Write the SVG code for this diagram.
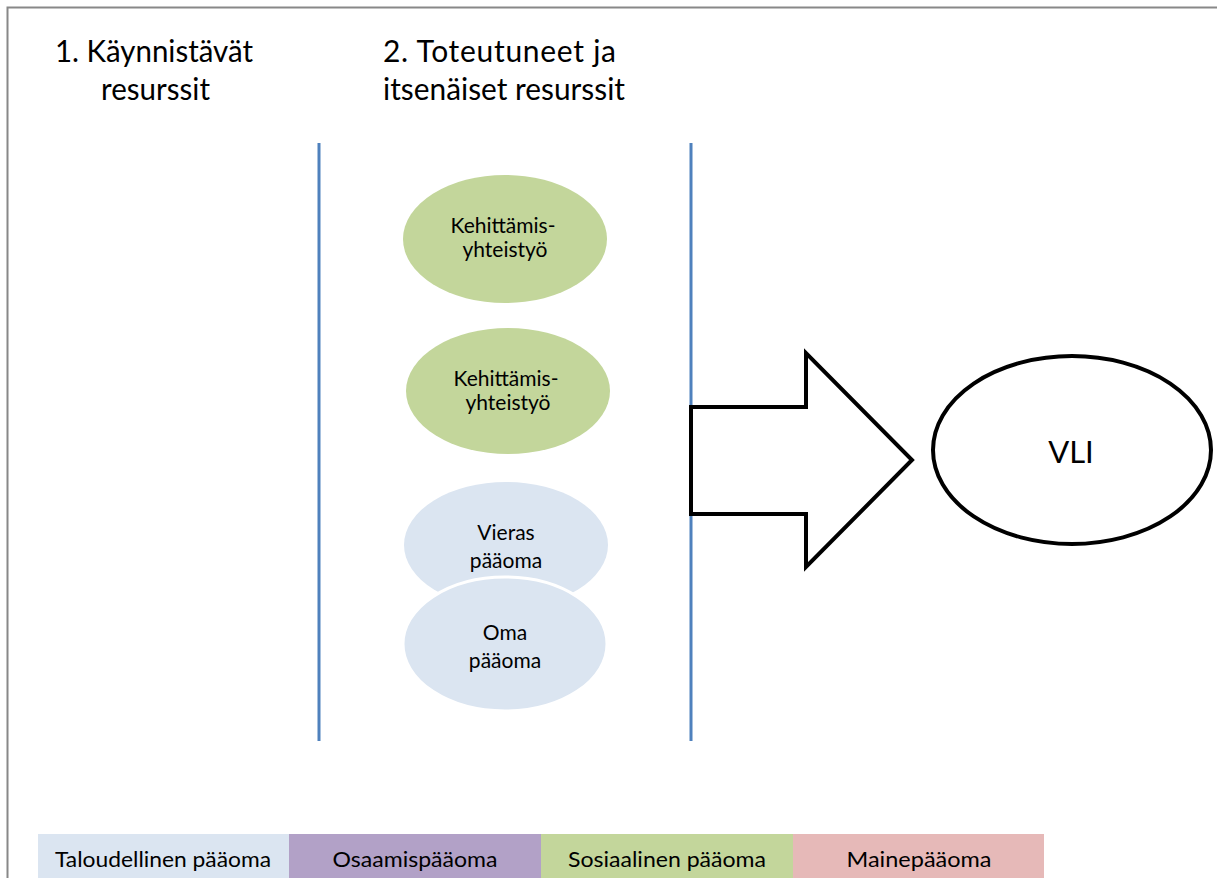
<svg xmlns="http://www.w3.org/2000/svg" width="1217" height="878" viewBox="0 0 1217 878">
  <style>
    text { font-family: Lato, "Open Sans", "Liberation Sans", sans-serif; fill: #000; }
    .title { font-size: 30px; }
    .node { font-size: 21px; text-anchor: middle; }
    .legend { font-size: 21px; text-anchor: middle; }
    .green { fill: #c3d69b; }
    .blue { fill: #dbe5f1; }
    .divider { stroke: #4f81bd; stroke-width: 3; }
  </style>

  <!-- page background and frame -->
  <rect x="0" y="0" width="1217" height="878" fill="#ffffff"/>
  <path d="M7.5 878 V7.5 H1217" fill="none" stroke="#888888" stroke-width="2"/>

  <!-- column headings -->
  <g id="heading-1">
    <text class="title" x="55" y="62" textLength="198" lengthAdjust="spacingAndGlyphs">1. Käynnistävät</text>
    <text class="title" x="101" y="100" textLength="109" lengthAdjust="spacingAndGlyphs">resurssit</text>
  </g>
  <g id="heading-2">
    <text class="title" x="383" y="62" textLength="233" lengthAdjust="spacing">2. Toteutuneet ja</text>
    <text class="title" x="383" y="100" textLength="242" lengthAdjust="spacingAndGlyphs">itsenäiset resurssit</text>
  </g>

  <!-- column dividers -->
  <g id="dividers">
    <line class="divider" x1="319" y1="143" x2="319" y2="741"/>
    <line class="divider" x1="691" y1="143" x2="691" y2="741"/>
  </g>

  <!-- resource nodes -->
  <g id="node-kehittamis-1">
    <ellipse class="green" cx="505" cy="239" rx="102" ry="64"/>
    <text class="node" x="503" y="233">Kehittämis-</text>
    <text class="node" x="505" y="257">yhteistyö</text>
  </g>
  <g id="node-kehittamis-2">
    <ellipse class="green" cx="508" cy="391" rx="102" ry="63"/>
    <text class="node" x="506" y="386">Kehittämis-</text>
    <text class="node" x="508" y="410">yhteistyö</text>
  </g>
  <g id="node-vieras">
    <ellipse class="blue" cx="506" cy="545" rx="102" ry="63"/>
    <text class="node" x="506" y="540" font-size="22">Vieras</text>
    <text class="node" x="506" y="568" font-size="22">pääoma</text>
  </g>
  <g id="node-oma">
    <ellipse class="blue" cx="505" cy="644" rx="102" ry="67" stroke="#ffffff" stroke-width="3"/>
    <text class="node" x="505" y="640" font-size="22">Oma</text>
    <text class="node" x="505" y="668" font-size="22">pääoma</text>
  </g>

  <!-- block arrow into the outcome -->
  <g id="connectors">
    <path d="M691 407 H806 V353 L912 460 L806 567 V514 H691 Z" fill="#ffffff" stroke="#000000" stroke-width="4" stroke-linejoin="miter"/>
  </g>

  <!-- outcome node -->
  <g id="node-vli">
    <ellipse cx="1072" cy="450" rx="139" ry="94" fill="#ffffff" stroke="#000000" stroke-width="4"/>
    <text x="1071" y="463" font-size="31" text-anchor="middle">VLI</text>
  </g>

  <!-- capital type legend -->
  <g id="legend">
    <rect x="38" y="834" width="252" height="44" fill="#dbe5f1"/>
    <rect x="289" y="834" width="253" height="44" fill="#b2a1c7"/>
    <rect x="541" y="834" width="253" height="44" fill="#c3d69b"/>
    <rect x="793" y="834" width="251" height="44" fill="#e6b9b8"/>
    <text class="legend" x="163" y="867" textLength="216" lengthAdjust="spacingAndGlyphs">Taloudellinen pääoma</text>
    <text class="legend" x="415" y="867" textLength="165" lengthAdjust="spacingAndGlyphs">Osaamispääoma</text>
    <text class="legend" x="667" y="867" textLength="198" lengthAdjust="spacingAndGlyphs">Sosiaalinen pääoma</text>
    <text class="legend" x="919" y="867" textLength="145" lengthAdjust="spacingAndGlyphs">Mainepääoma</text>
  </g>
</svg>
